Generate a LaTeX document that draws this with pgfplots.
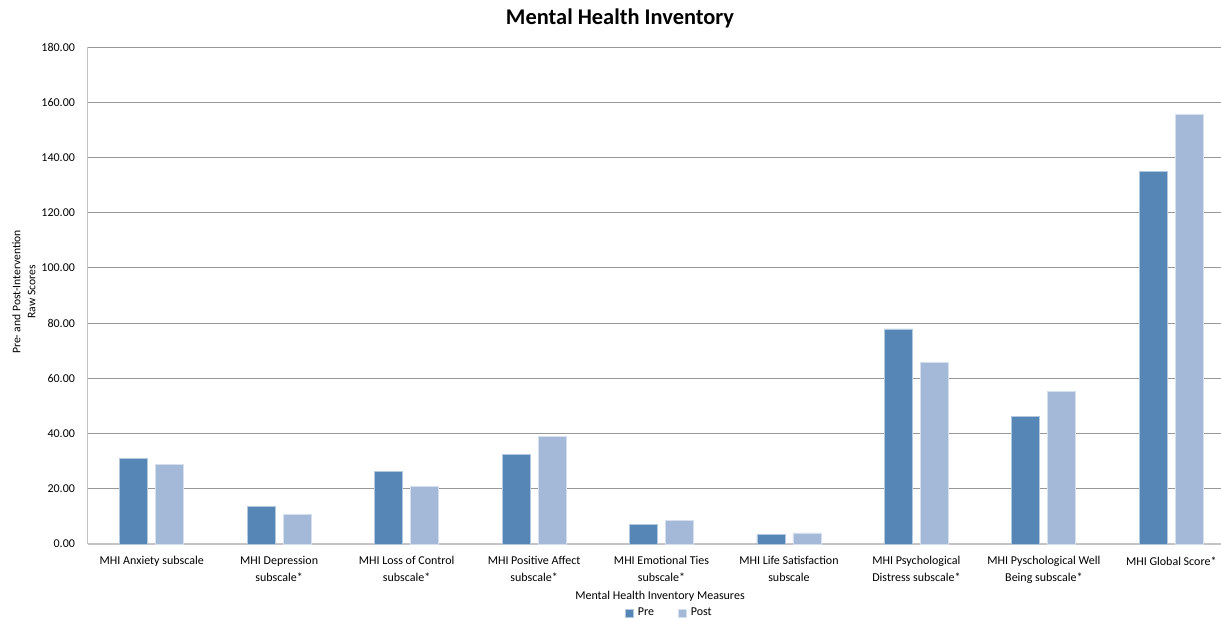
\documentclass[border=0pt]{standalone}
\usepackage{fontspec}
\setmainfont{Carlito}
\usepackage{pgfplots}
\pgfplotsset{compat=1.18}

\definecolor{preblue}{RGB}{85,134,182}
\definecolor{postblue}{RGB}{164,184,216}
\definecolor{gridgray}{RGB}{152,152,152}
\definecolor{axisgray}{RGB}{196,196,196}

\begin{document}
\begin{tikzpicture}
% page frame
\path[use as bounding box] (0,0) rectangle (610.5pt,309pt);

\begin{axis}[
  at={(44pt,37pt)}, anchor=south west,
  scale only axis, width=566.5pt, height=248.5pt,
  xmin=-0.5, xmax=8.39, ymin=0, ymax=180,
  ybar=4pt, bar width=14pt,
  axis x line*=bottom, axis y line*=left,
  axis line style={-},
  x axis line style={axisgray, line width=0.6pt},
  y axis line style={axisgray, line width=0.5pt},
  ymajorgrids, grid style={gridgray, line width=0.5pt},
  ytick={0,20,...,180},
  xtick={0,...,8},
  xticklabels={
    MHI Anxiety subscale,
    {MHI Depression\\subscale*},
    {MHI Loss of Control\\subscale*},
    {MHI Positive Affect\\subscale*},
    {MHI Emotional Ties\\subscale*},
    {MHI Life Satisfaction\\subscale},
    {MHI Psychological\\Distress subscale*},
    {MHI Pyschological Well\\Being subscale*},
    MHI Global Score*},
  major tick style={draw=none},
  xticklabel style={font=\fontsize{6}{8.5}\selectfont, align=center, yshift=1.5pt},
  yticklabel style={font=\fontsize{6}{7}\selectfont,
    /pgf/number format/fixed,
    /pgf/number format/fixed zerofill,
    /pgf/number format/precision=2,
    /pgf/number format/assume math mode=true,
    xshift=-3pt},
  legend style={at={(0.514,-0.140)}, anchor=center, draw=none,
    font=\fontsize{6}{7}\selectfont, legend columns=2,
    /tikz/every even column/.append style={column sep=10pt}},
  legend image code/.code={\fill[#1] (0pt,-2pt) rectangle (4pt,2pt);},
]
\addplot[fill=preblue, draw=white!55!preblue, line width=0.4pt]
  coordinates {(0,31.0) (1,13.5) (2,26.3) (3,32.5) (4,7.2) (5,3.3) (6,77.9) (7,46.1) (8,134.8)};
\addplot[fill=postblue, draw=white!55!postblue, line width=0.4pt]
  coordinates {(0,28.9) (1,10.7) (2,20.8) (3,39.1) (4,8.5) (5,4.0) (6,65.9) (7,55.2) (8,155.7)};
\legend{Pre,Post}
\end{axis}

% titles and axis captions
\node[font=\fontsize{11.2}{13}\selectfont\bfseries] at (310pt,300pt) {Mental Health Inventory};
\node[font=\fontsize{5.8}{7.5}\selectfont, rotate=90, align=center] at (12pt,163pt)
  {Pre- and Post-Intervention\\Raw Scores};
\node[font=\fontsize{6}{7}\selectfont] at (330pt,11pt) {Mental Health Inventory Measures};
\end{tikzpicture}
\end{document}
